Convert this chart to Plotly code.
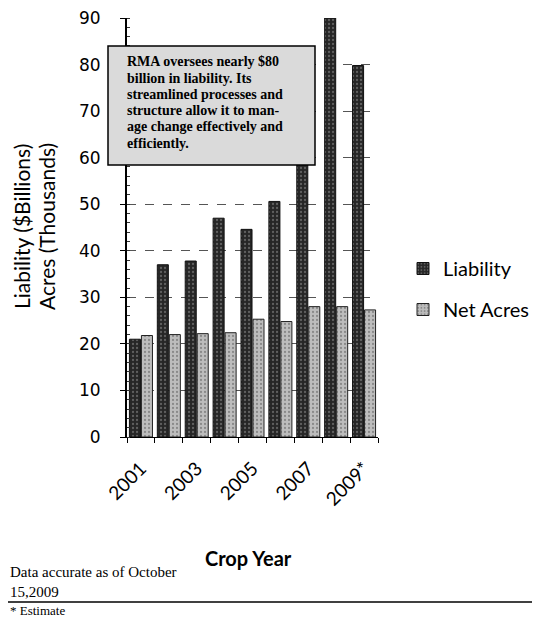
import plotly.graph_objects as go

years = ["2001", "2002", "2003", "2004", "2005", "2006", "2007", "2008", "2009*"]
tick_text = ["2001", "", "2003", "", "2005", "", "2007", "", "2009*"]
liability = [21, 37, 37.8, 47, 44.6, 50.6, 67, 90, 79.8]
net_acres = [21.8, 22, 22.2, 22.4, 25.3, 24.8, 28, 28, 27.3]

# page body has an 8px default margin; the figure is drawn from (8, 8)
OFF = 8
W, H = 540 - OFF, 618 - OFF
L, R, T, B = 127, 378, 18, 437  # page pixel coords of plot area
pw, ph = R - L, B - T

def px(x):
    return (x - L) / pw

def py(y):
    return (B - y) / ph

fig = go.Figure()
fig.add_trace(go.Bar(
    x=years, y=liability, name="Liability", legendgroup="a",
    marker=dict(color="#262626", line=dict(color="#111", width=1),
                pattern=dict(shape=".", fgcolor="#9a9a9a", size=4, solidity=0.25)),
))
fig.add_trace(go.Bar(
    x=years, y=net_acres, name="Net Acres", legendgroup="b",
    marker=dict(color="#bdbdbd", line=dict(color="#222", width=1),
                pattern=dict(shape=".", fgcolor="#555", size=4, solidity=0.25)),
))

fig.update_layout(
    width=W, height=H,
    margin=dict(l=L - OFF, r=540 - R, t=T - OFF, b=618 - B, autoexpand=False),
    paper_bgcolor="white", plot_bgcolor="white",
    barmode="group", bargap=0.14, bargroupgap=0.08,
    font=dict(family="DejaVu Sans", color="black"),
    showlegend=True,
    legend=dict(x=px(403), y=py(249), xanchor="left", yanchor="top",
                font=dict(family="Lato", size=20, color="black"),
                traceorder="grouped", tracegroupgap=12, bgcolor="rgba(0,0,0,0)",
                itemwidth=30),
    xaxis=dict(
        tickmode="array", tickvals=years, ticktext=tick_text, tickangle=-45,
        tickfont=dict(family="Lato", size=19), showline=True, linecolor="black",
        linewidth=1, ticks="outside", ticklen=5, tickson="boundaries",
        tickcolor="black", showgrid=False, range=[-0.5, 8.5], automargin=False,
        ticklabelstandoff=12,
    ),
    yaxis=dict(
        range=[0, 90], dtick=10, tickfont=dict(family="DejaVu Sans", size=17),
        showline=True, linecolor="black", linewidth=2, ticks="outside",
        ticklen=5, tickcolor="black", ticklabelstandoff=16, automargin=False,
        ticklabeloverflow="allow",
        showgrid=True, gridcolor="#555", griddash="dash", gridwidth=1,
        zeroline=False,
        minor=dict(dtick=2, ticks="inside", ticklen=3, tickcolor="#333", showgrid=False),
    ),
)

# Text box
fig.add_shape(type="rect", xref="paper", yref="paper",
              x0=px(108), x1=px(315), y0=py(165), y1=py(46),
              fillcolor="#dadada", line=dict(color="black", width=1.5), layer="above")
box_lines = ["RMA oversees nearly $80", "billion in liability. Its",
             "streamlined processes and", "structure allow it to man-",
             "age change effectively and", "efficiently."]
for i, line in enumerate(box_lines):
    fig.add_annotation(xref="paper", yref="paper", x=px(125), y=py(62 + i * 16.2),
                       xanchor="left", yanchor="middle", align="left", showarrow=False,
                       text="<b>" + line + "</b>",
                       font=dict(family="Liberation Serif", size=14, color="black"))

# Axis titles
fig.add_annotation(xref="paper", yref="paper", x=px(21), y=py(227), textangle=-90,
                   xanchor="center", yanchor="middle",
                   showarrow=False, text="Liability ($Billions)",
                   font=dict(family="Lato", size=21, color="black"))
fig.add_annotation(xref="paper", yref="paper", x=px(46), y=py(227), textangle=-90,
                   xanchor="center", yanchor="middle",
                   showarrow=False, text="Acres (Thousands)",
                   font=dict(family="Lato", size=21, color="black"))
fig.add_annotation(xref="paper", yref="paper", x=px(248), y=py(558),
                   xanchor="center", yanchor="middle",
                   showarrow=False, text="<b>Crop Year</b>",
                   font=dict(family="Lato", size=20, color="black"))

# Footnotes
fig.add_annotation(xref="paper", yref="paper", x=px(OFF), y=py(582), xanchor="left",
                   yanchor="middle", align="left", showarrow=False,
                   text="Data accurate as of October<br>15,2009",
                   font=dict(family="Liberation Serif", size=15, color="black"))
fig.add_shape(type="line", xref="paper", yref="paper", x0=px(OFF), x1=px(540),
              y0=py(602), y1=py(602), line=dict(color="black", width=1.5))
fig.add_annotation(xref="paper", yref="paper", x=px(OFF), y=py(610), xanchor="left",
                   yanchor="middle", showarrow=False, text="* Estimate",
                   font=dict(family="Liberation Serif", size=13, color="black"))

fig.write_html("out.html")
